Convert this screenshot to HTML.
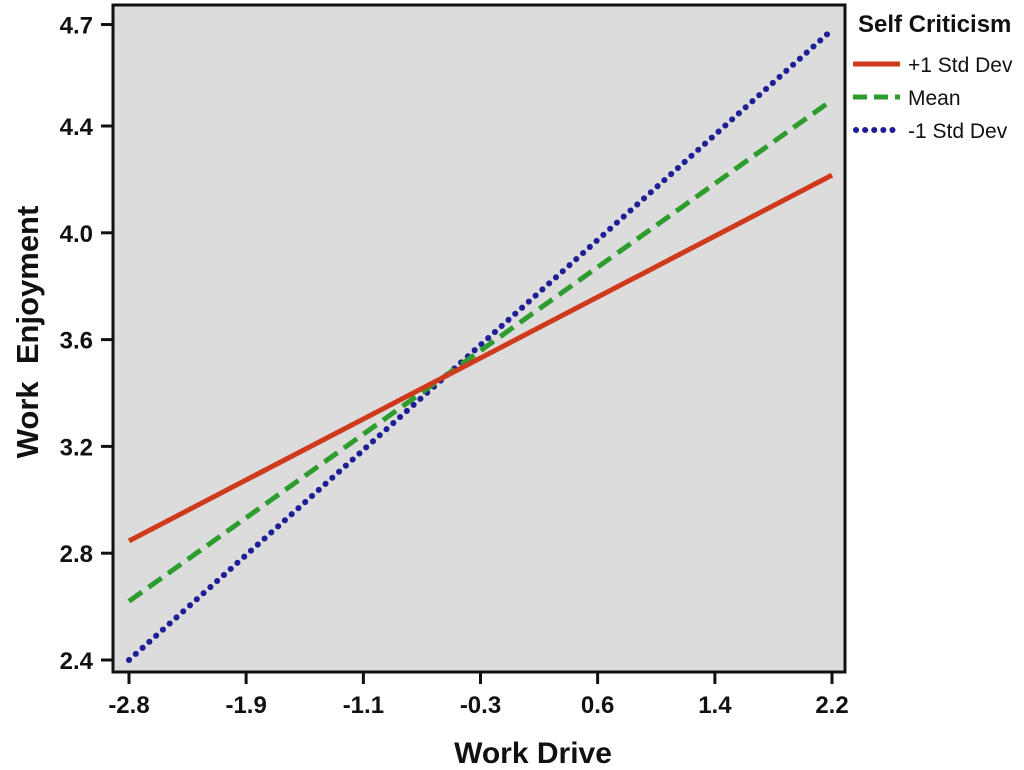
<!DOCTYPE html>
<html><head><meta charset="utf-8"><style>
html,body{margin:0;padding:0;background:#fff;width:1024px;height:770px;overflow:hidden}
svg text{font-family:"Liberation Sans",Arial,sans-serif;font-weight:bold;fill:#111}
</style></head><body>
<svg id="chart" width="1024" height="770" viewBox="0 0 1024 770" xmlns="http://www.w3.org/2000/svg">
<rect x="113" y="5" width="732" height="667" fill="#dcdcdc" stroke="#111" stroke-width="3"/>
<g id="lines"></g>
<g id="axes"></g>
<text transform="translate(38,332) rotate(-90)" text-anchor="middle" font-size="31">Work&#160; Enjoyment</text>
<text x="533" y="763" text-anchor="middle" font-size="30">Work Drive</text>
<g>
<text x="858" y="32" font-size="24">Self Criticism</text>
<line x1="853" y1="64" x2="900" y2="64" stroke="#d03a1c" stroke-width="5"/>
<text x="908" y="72" font-size="21" style="font-weight:normal">+1 Std Dev</text>
<line x1="853" y1="97" x2="900" y2="97" stroke="#2e9c2e" stroke-width="5" stroke-dasharray="14,7"/>
<text x="908" y="105" font-size="21" style="font-weight:normal">Mean</text>
<line x1="856" y1="130" x2="900" y2="130" stroke="#1e1e96" stroke-width="6" stroke-dasharray="0.1,9" stroke-linecap="round"/>
<text x="908" y="138" font-size="21" style="font-weight:normal">-1 Std Dev</text>
</g>
</svg>
<script>
const xDomain = [-2.8, 2.2];
const plus1Values = [2.846, 4.216];
const meanValues = [2.62, 4.497];
const minus1Values = [2.4, 4.76];
const xTickValues = [-2.8, -1.967, -1.133, -0.3, 0.533, 1.367, 2.2];
const xTickLabels = ["-2.8", "-1.9", "-1.1", "-0.3", "0.6", "1.4", "2.2"];
const yTickValues = [2.4, 2.8, 3.2, 3.6, 4.0, 4.4, 4.78];
const yTickLabels = ["2.4", "2.8", "3.2", "3.6", "4.0", "4.4", "4.7"];

const NS = "http://www.w3.org/2000/svg";
function xs(v){ return 129 + (v - (-2.8)) * (832 - 129) / 5.0; }
function ys(v){ return 660 - (v - 2.4) * 267; }
function mk(tag, attrs, parent){
  const e = document.createElementNS(NS, tag);
  for (const k in attrs) e.setAttribute(k, attrs[k]);
  parent.appendChild(e); return e;
}
const lines = document.getElementById('lines');
const series = [
  {vals: minus1Values, color:"#1e1e96", dash:"0.1,9", w:6, cap:"round", name:"line-minus1-std-dev"},
  {vals: meanValues, color:"#2e9c2e", dash:"16,8", w:5, cap:"butt", name:"line-mean"},
  {vals: plus1Values, color:"#d03a1c", dash:"", w:5, cap:"butt", name:"line-plus1-std-dev"}
];
series.forEach(s => {
  const l = mk('line', {x1: xs(xDomain[0]), y1: ys(s.vals[0]), x2: xs(xDomain[1]), y2: ys(s.vals[1]), stroke: s.color, 'stroke-width': s.w, 'stroke-linecap': s.cap}, lines);
  if (s.dash) l.setAttribute('stroke-dasharray', s.dash);
  
  
});
const axes = document.getElementById('axes');
xTickValues.forEach((v, i) => {
  const x = xs(v);
  const t = mk('line', {x1: x, y1: 672, x2: x, y2: 684, stroke: "#111", 'stroke-width': 3}, axes);
  
  
  const tx = mk('text', {x: x, y: 713, 'text-anchor': 'middle', 'font-size': 24}, axes);
  tx.textContent = xTickLabels[i];
  
  
});
yTickValues.forEach((v, i) => {
  const y = ys(v);
  const t = mk('line', {x1: 101, y1: y, x2: 113, y2: y, stroke: "#111", 'stroke-width': 3}, axes);
  
  
  const tx = mk('text', {x: 93, y: y + 9, 'text-anchor': 'end', 'font-size': 24}, axes);
  tx.textContent = yTickLabels[i];
  
  
});
</script>
</body></html>
